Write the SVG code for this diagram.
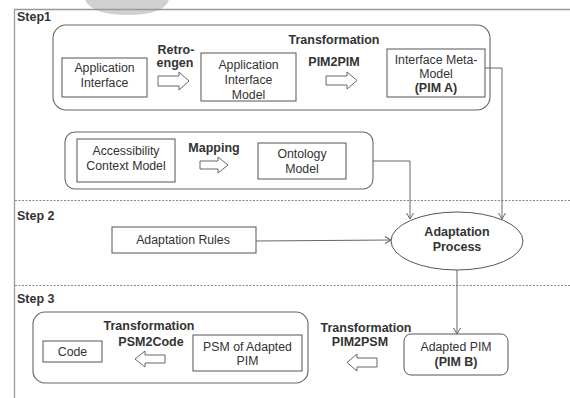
<svg xmlns="http://www.w3.org/2000/svg" width="570" height="398" viewBox="0 0 570 398">
<style>
text{font-family:"Liberation Sans",Arial,sans-serif;fill:#333;font-size:12.3px;text-anchor:middle}
.b{font-weight:bold;font-size:12.5px}
.l{text-anchor:start}
.box{fill:#fff;stroke:#555;stroke-width:1}
.grp{fill:none;stroke:#666;stroke-width:1.1}
.frame{stroke:#999;stroke-width:1.3;fill:none}
.dash{stroke:#888;stroke-width:1;stroke-dasharray:2,1.5;fill:none}
.ha{fill:#fff;stroke:#666;stroke-width:1}
.con{fill:none;stroke:#666;stroke-width:1}
</style>
<defs>
<marker id="ah" markerWidth="10" markerHeight="10" refX="9" refY="5" orient="auto" markerUnits="userSpaceOnUse">
<path d="M3,1.5 L9,5 L3,8.5" fill="none" stroke="#666" stroke-width="1"/>
</marker>
</defs>
<rect width="570" height="398" fill="#fff"/>
<path d="M85,0 Q92,15 128,15 Q163,15 169,0 Z" fill="#d0d0d0"/>
<g id="frame">
<path class="frame" d="M14.5,398 V9.5 H570"/>
<path class="dash" d="M15,200.5 H570"/>
<path class="dash" d="M15,285.5 H570"/>
<text class="b l" x="17" y="21">Step1</text>
<text class="b l" x="17" y="220">Step 2</text>
<text class="b l" x="17" y="303">Step 3</text>
</g>
<g id="group1">
<rect class="grp" x="53" y="25" width="437" height="85" rx="13"/>
<text class="b" x="334" y="44">Transformation</text>
</g>
<g id="app-interface">
<rect class="box" x="62" y="58" width="85" height="39"/>
<text x="104.5" y="72">Application</text>
<text x="104.5" y="87">Interface</text>
</g>
<g id="retroengen">
<text class="b" x="176" y="54">Retro-</text>
<text class="b" x="175" y="67">engen</text>
<polygon class="ha" points="158,76 179,76 179,72 189,81 179,90 179,86 158,86"/>
</g>
<g id="app-interface-model">
<rect class="box" x="201" y="53" width="95" height="48"/>
<text x="248.5" y="69">Application</text>
<text x="248.5" y="84">Interface</text>
<text x="248.5" y="99">Model</text>
</g>
<g id="pim2pim">
<text class="b" x="334" y="66">PIM2PIM</text>
<polygon class="ha" points="326,76 347,76 347,72 357,80.5 347,89 347,85 326,85"/>
</g>
<g id="interface-meta-model">
<rect class="box" x="387" y="49" width="98" height="48"/>
<text x="436" y="64">Interface Meta-</text>
<text x="436" y="78">Model</text>
<text class="b" x="436" y="92">(PIM A)</text>
</g>
<g id="group2">
<rect class="grp" x="65" y="132" width="308" height="57" rx="10"/>
</g>
<g id="accessibility">
<rect class="box" x="77" y="139" width="98" height="43"/>
<text x="126" y="155">Accessibility</text>
<text x="126" y="170">Context Model</text>
</g>
<g id="mapping">
<text class="b" x="214" y="152">Mapping</text>
<polygon class="ha" points="200,161 218,161 218,157 228,165 218,173 218,169 200,169"/>
</g>
<g id="ontology">
<rect class="box" x="258" y="143" width="88" height="36"/>
<text x="302" y="158">Ontology</text>
<text x="302" y="173">Model</text>
</g>
<g id="adaptation-rules">
<rect class="box" x="112" y="227" width="144" height="26"/>
<text x="183" y="244">Adaptation  Rules</text>
</g>
<g id="adaptation-process">
<ellipse class="box" cx="457" cy="241" rx="66" ry="29"/>
<text class="b" x="457" y="236">Adaptation</text>
<text class="b" x="457" y="251">Process</text>
</g>
<g id="group3">
<rect class="grp" x="33" y="312" width="275" height="71" rx="12"/>
<text class="b" x="149" y="330">Transformation</text>
</g>
<g id="code">
<rect class="box" x="43" y="341" width="59" height="21"/>
<text x="72.5" y="356">Code</text>
</g>
<g id="psm2code">
<polygon class="ha" points="165,355 145,355 145,351 135,359 145,367 145,363 165,363"/>
<text class="b" x="151" y="346">PSM2Code</text>
</g>
<g id="psm-adapted">
<rect class="box" x="193" y="335" width="109" height="36"/>
<text x="247.5" y="351">PSM of Adapted</text>
<text x="247.5" y="365">PIM</text>
</g>
<g id="pim2psm">
<text class="b" x="366" y="332">Transformation</text>
<text class="b" x="360" y="346">PIM2PSM</text>
<polygon class="ha" points="377,358 357,358 357,354 347,362.5 357,371 357,367 377,367"/>
</g>
<g id="adapted-pim">
<rect class="box" x="404" y="334" width="104" height="41" rx="7"/>
<text x="456" y="351">Adapted PIM</text>
<text class="b" x="456" y="366">(PIM B)</text>
</g>
<g id="connectors">
<path class="con" d="M373,161 H410 V219" marker-end="url(#ah)"/>
<path class="con" d="M485,68 H502 V219" marker-end="url(#ah)"/>
<path class="con" d="M256,241 L391,240" marker-end="url(#ah)"/>
<path class="con" d="M457,270 V334" marker-end="url(#ah)"/>
</g>
</svg>
